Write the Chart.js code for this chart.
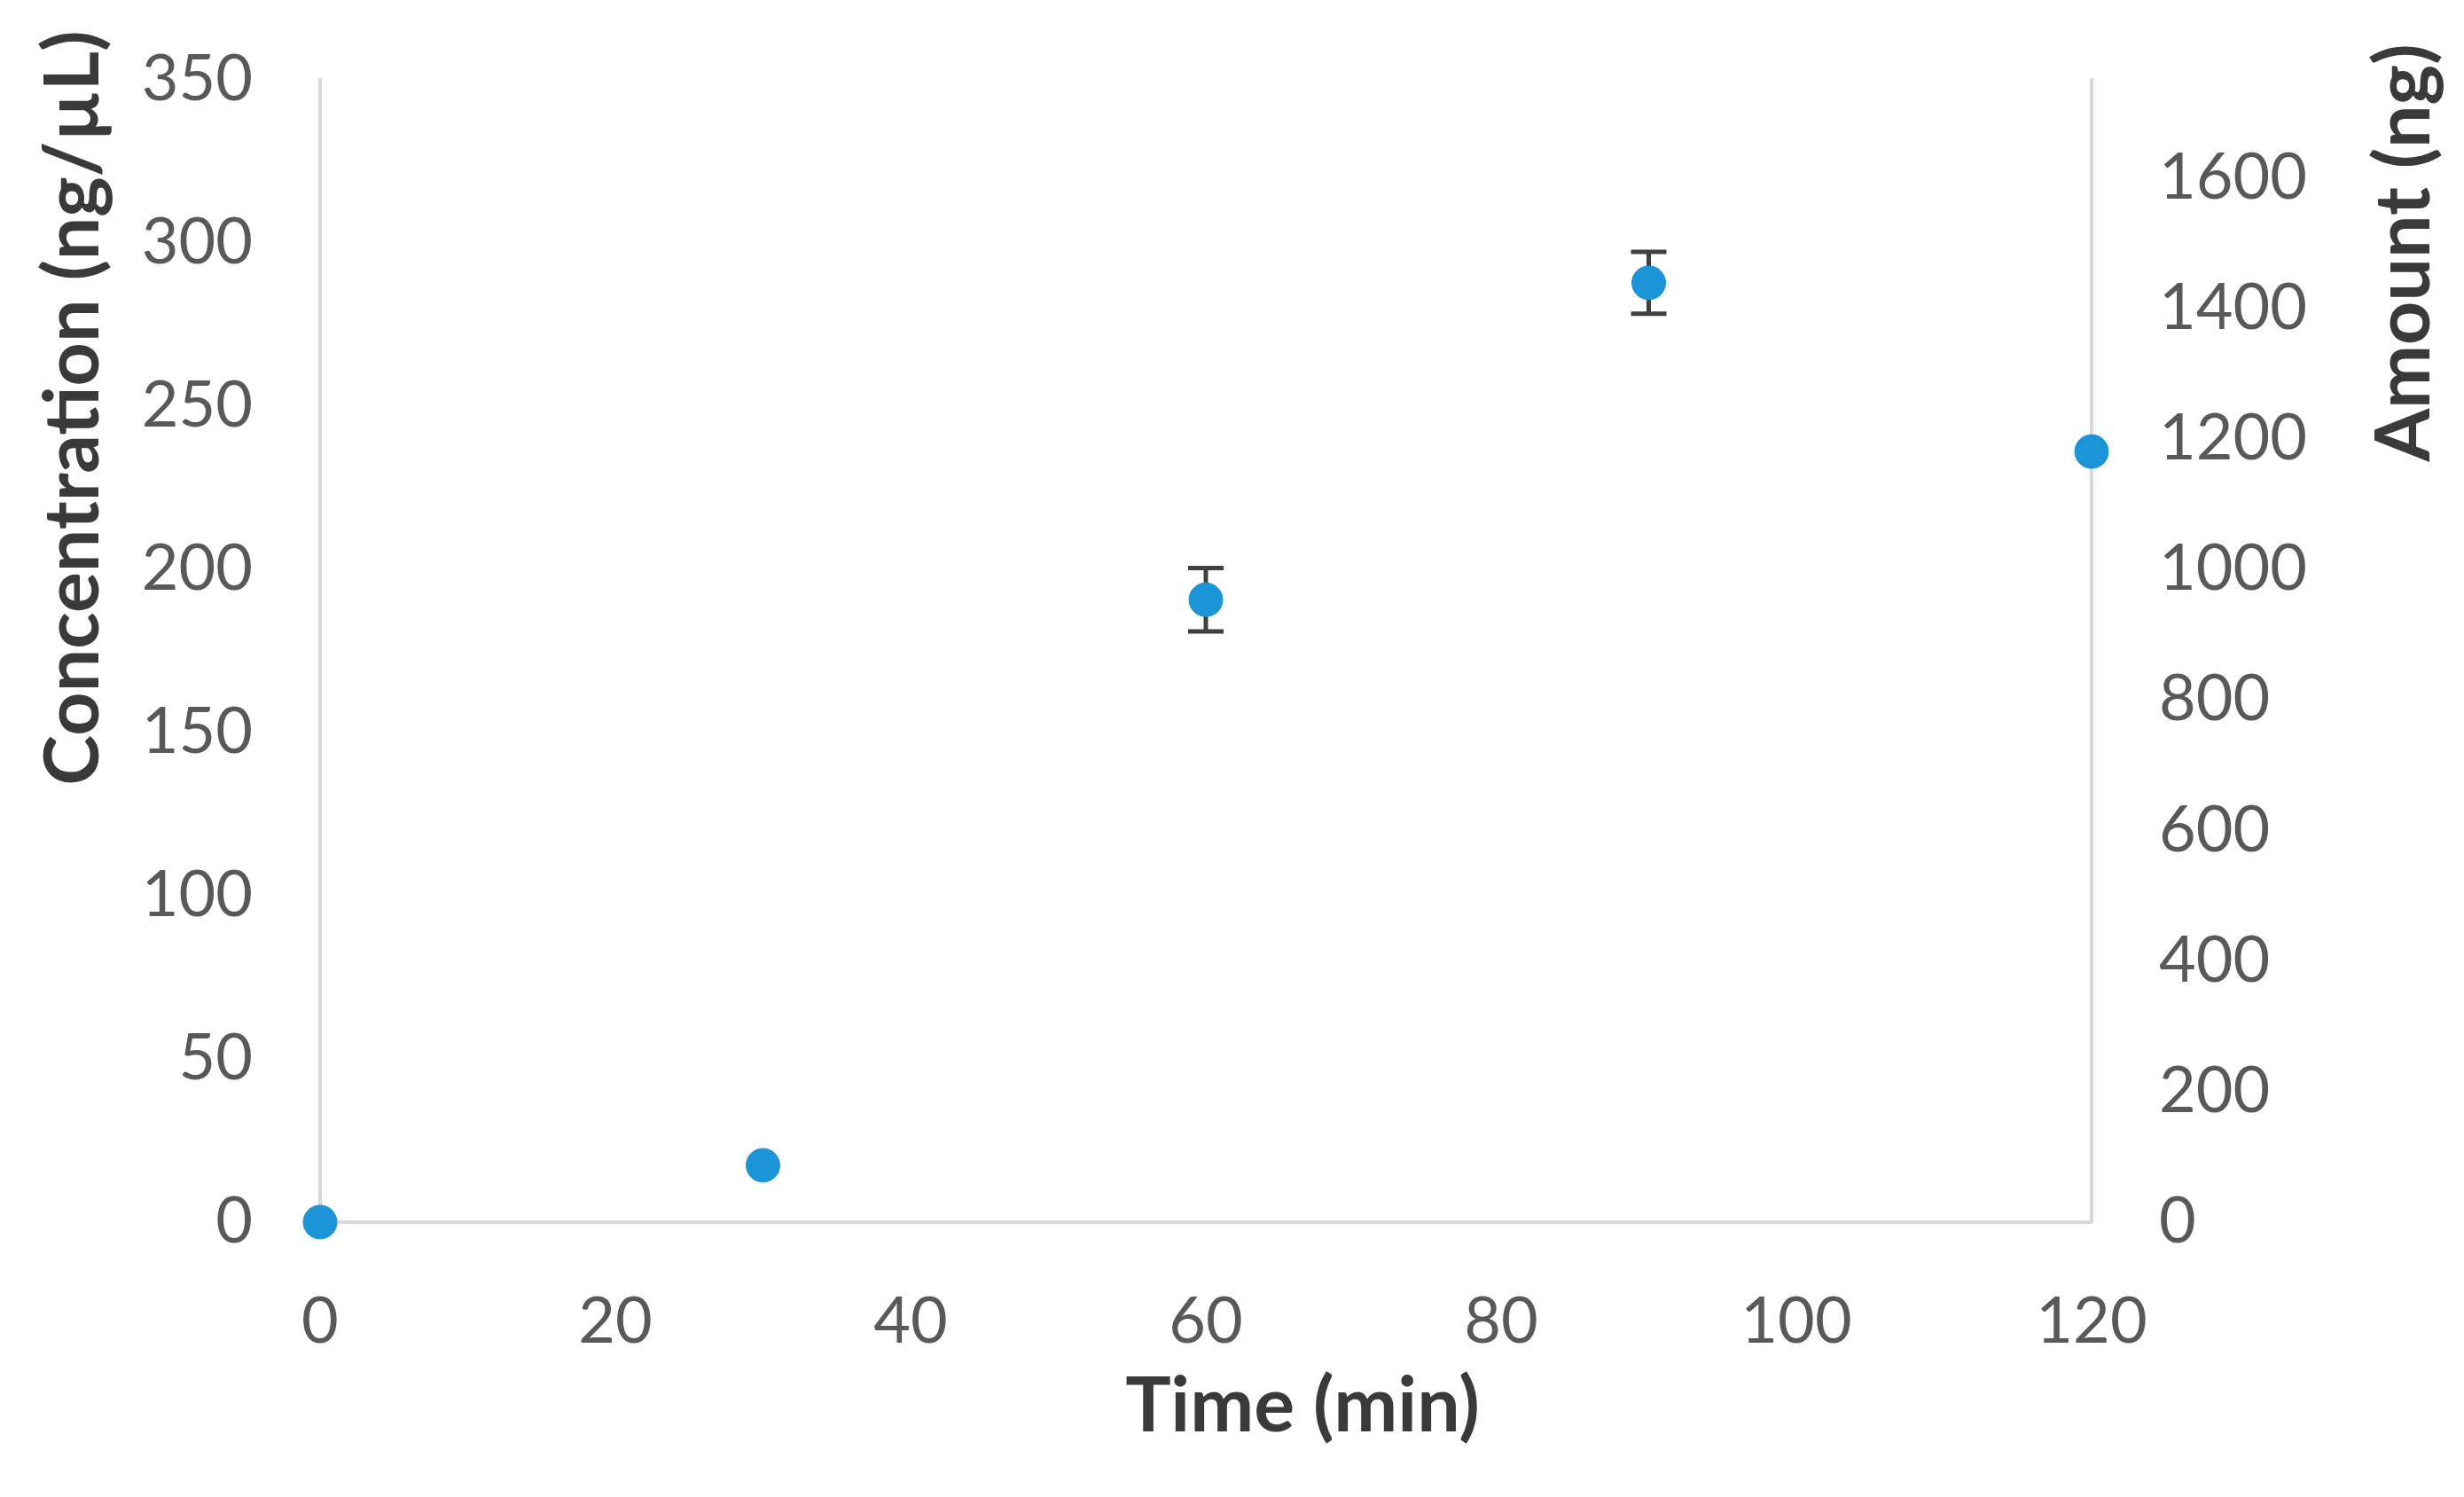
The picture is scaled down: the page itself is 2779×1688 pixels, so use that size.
<!DOCTYPE html>
<html>
<head>
<meta charset="utf-8">
<script src="https://cdn.jsdelivr.net/npm/chart.js@4.4.0/dist/chart.umd.min.js"></script>
<style>
  html, body { margin: 0; padding: 0; background: #fff; }
  #wrap { width: 2779px; height: 1688px; }
</style>
</head>
<body>
<div id="wrap"><canvas id="concChart"></canvas></div>
<script>
  // data
  const times = [0, 30, 60, 90, 120];
  const concentration = [0, 17.4, 190.7, 287.8, 236.1];
  const concError = [0, 0, 9.7, 9.5, 0];
  const leftTicks = [0, 50, 100, 150, 200, 250, 300, 350];
  const rightTicks = [0, 200, 400, 600, 800, 1000, 1200, 1400, 1600];
  const xTicks = [0, 20, 40, 60, 80, 100, 120];

  const tickFont = { family: 'Lato', size: 72 };
  const tickColor = '#595959';
  const lineColor = '#d9d9d9';
  const plain = v => String(v);

  // fixed box sizes so the plot area lands where it does in the figure
  const fitY = w => s => { s.width = w; s.paddingTop = 0; s.paddingBottom = 0; };

  // error bars + axis titles
  const extras = {
    id: 'extras',
    beforeDatasetsDraw(chart) {
      const ctx = chart.ctx;
      const xs = chart.scales.x, ys = chart.scales.y;
      ctx.save();
      ctx.strokeStyle = '#404040';
      ctx.lineWidth = 5;
      times.forEach((t, i) => {
        if (!concError[i]) return;
        const px = xs.getPixelForValue(t);
        const top = ys.getPixelForValue(concentration[i] + concError[i]);
        const bot = ys.getPixelForValue(concentration[i] - concError[i]);
        ctx.beginPath();
        ctx.moveTo(px, top); ctx.lineTo(px, bot);
        ctx.moveTo(px - 20, top); ctx.lineTo(px + 20, top);
        ctx.moveTo(px - 20, bot); ctx.lineTo(px + 20, bot);
        ctx.stroke();
      });
      ctx.restore();
    },
    afterDraw(chart) {
      const ctx = chart.ctx;
      const title = (text, x, y, rot) => {
        ctx.save();
        ctx.fillStyle = '#3a3a3a';
        ctx.font = 'bold 86px Lato';
        ctx.textAlign = 'center';
        ctx.textBaseline = 'middle';
        ctx.translate(x, y);
        if (rot) ctx.rotate(-Math.PI / 2);
        ctx.fillText(text, 0, 0);
        ctx.restore();
      };
      title('Time (min)', 1469, 1586, false);
      title('Concentration (ng/µL)', 83, 460, true);
      title('Amount (ng)', 2712, 285, true);
    }
  };

  new Chart(document.getElementById('concChart'), {
    type: 'scatter',
    data: {
      datasets: [{
        label: 'Concentration',
        data: times.map((t, i) => ({ x: t, y: concentration[i] })),
        backgroundColor: '#1b95d8',
        borderColor: '#1b95d8',
        pointRadius: 19,
        pointHoverRadius: 19,
        clip: false
      }]
    },
    options: {
      responsive: true,
      maintainAspectRatio: false,
      animation: false,
      layout: { autoPadding: false, padding: { top: 90, left: 0, right: 0, bottom: 0 } },
      plugins: {
        legend: { display: false },
        title: { display: false },
        tooltip: { enabled: false }
      },
      scales: {
        x: {
          type: 'linear',
          min: 0, max: 120,
          afterBuildTicks: s => { s.ticks = xTicks.map(v => ({ value: v })); },
          afterFit: s => { s.height = 310; s.paddingLeft = 0; s.paddingRight = 0; },
          grid: { display: false, drawTicks: false },
          border: { color: lineColor, width: 4 },
          ticks: { color: tickColor, font: tickFont, padding: 70, callback: plain }
        },
        y: {
          position: 'left',
          min: 0, max: 350,
          afterBuildTicks: s => { s.ticks = leftTicks.map(v => ({ value: v })); },
          afterFit: fitY(361),
          grid: { display: false, drawTicks: false },
          border: { color: lineColor, width: 4 },
          ticks: { color: tickColor, font: tickFont, padding: 76, callback: plain }
        },
        y2: {
          position: 'right',
          display: true,
          min: 0, max: 1750,
          afterBuildTicks: s => { s.ticks = rightTicks.map(v => ({ value: v })); },
          afterFit: fitY(420),
          grid: { display: false, drawTicks: false },
          border: { color: lineColor, width: 4 },
          ticks: { color: tickColor, font: tickFont, padding: 76, callback: plain }
        }
      }
    },
    plugins: [extras]
  });
</script>
</body>
</html>
